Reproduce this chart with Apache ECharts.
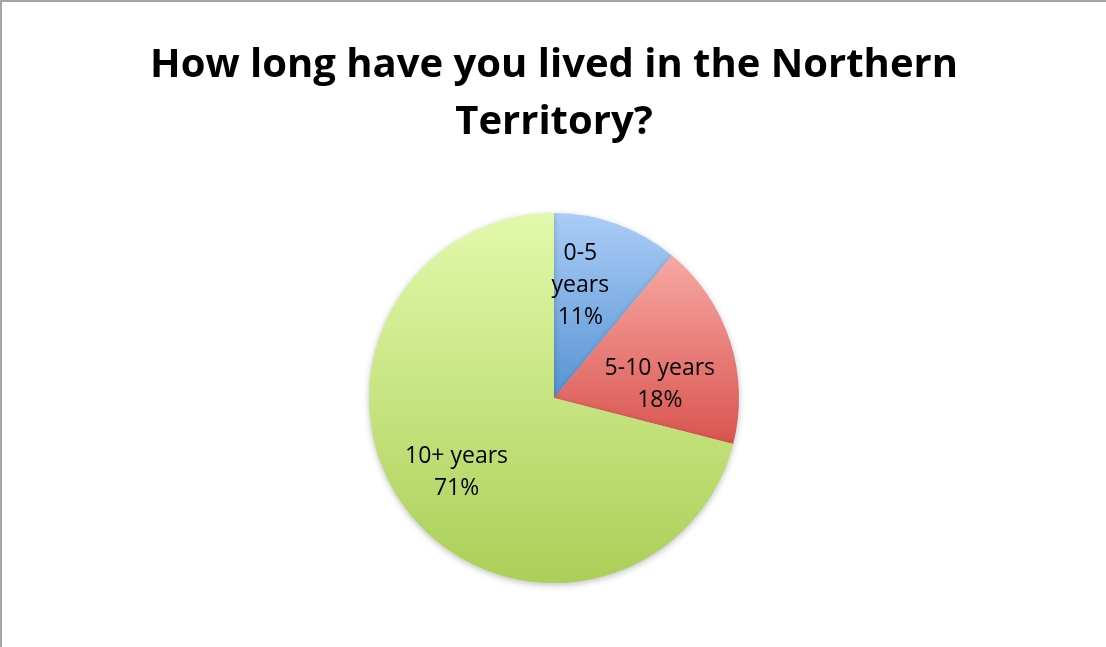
<!DOCTYPE html>
<html>
<head>
<meta charset="utf-8">
<script src="https://cdn.jsdelivr.net/npm/echarts@6/dist/echarts.min.js"></script>
<style>
  html, body { margin: 0; padding: 0; background: #fff; }
  #chart {
    width: 1104px; height: 645px;
    border-top: 2px solid #a6a6a6;
    border-left: 2px solid #a6a6a6;
  }
</style>
</head>
<body>
<div id="chart"></div>
<script>
// data
const categories = ["0-5\nyears", "5-10 years", "10+ years"];
const shares = [11, 18, 71];

// fill colours, top → bottom of each slice
const topColors = ["#abcdf7", "#f7a8a4", "#e2f9ab"];
const bottomColors = ["#5793d3", "#d9544f", "#abcf58"];

// small nudges so labels sit where the original ones are
const labelNudge = [[-6, -23], [15, 16], [-22, 16]];

const chart = echarts.init(document.getElementById("chart"));

const data = categories.map((name, i) => ({
  name: name,
  value: shares[i],
  itemStyle: {
    color: new echarts.graphic.LinearGradient(0, 0, 0, 1, [
      { offset: 0, color: topColors[i] },
      { offset: 1, color: bottomColors[i] },
    ]),
  },
}));

chart.setOption({
  animation: false,
  title: {
    text: "How long have you lived in the Northern\nTerritory?",
    left: "center",
    top: 30,
    textStyle: {
      fontFamily: "Open Sans",
      fontWeight: "bold",
      fontSize: 40,
      lineHeight: 57,
      color: "#000",
    },
  },
  series: [
    {
      type: "pie",
      center: [552, 396],
      radius: 185,
      startAngle: 90,
      clockwise: true,
      data: data,
      itemStyle: {
        borderWidth: 0,
        shadowBlur: 6,
        shadowColor: "rgba(0,0,0,0.25)",
        shadowOffsetY: 2,
      },
      label: {
        show: true,
        position: "inside",
        formatter: (p) => p.name + "\n" + p.value + "%",
        fontFamily: "Open Sans",
        fontSize: 23,
        lineHeight: 32,
        color: "#000",
        align: "center",
      },
      labelLine: { show: false },
      emphasis: { disabled: true },
      labelLayout: (p) => ({
        dx: labelNudge[p.dataIndex][0],
        dy: labelNudge[p.dataIndex][1],
      }),
    },
  ],
});
</script>
</body>
</html>
